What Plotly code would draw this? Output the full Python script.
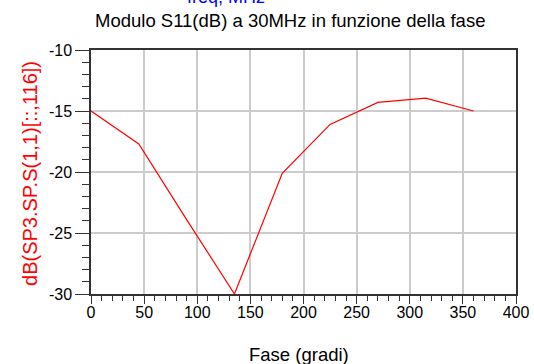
import plotly.graph_objects as go

phase_deg = [0, 45, 90, 135, 180, 225, 270, 315, 360]
s11_db = [-15.0, -17.7, -23.9, -30.0, -20.1, -16.1, -14.3, -13.95, -15.0]

x_ticks = [0, 50, 100, 150, 200, 250, 300, 350, 400]
y_ticks = [-30, -25, -20, -15, -10]

FONT = "Liberation Sans, Arial, sans-serif"

fig = go.Figure()
fig.add_trace(go.Scatter(
    x=phase_deg, y=s11_db, mode="lines",
    line=dict(color="#ff0000", width=1.2),
    showlegend=False, cliponaxis=False,
))

fig.update_layout(
    width=534, height=364,
    margin=dict(l=91, r=18, t=50, b=70, autoexpand=False),
    paper_bgcolor="white", plot_bgcolor="white",
    font=dict(family=FONT, size=16, color="black"),
    annotations=[
        dict(text="freq, MHz", xref="paper", yref="paper", x=0.318, y=1.168,
             xanchor="center", yanchor="bottom", showarrow=False,
             font=dict(family=FONT, size=18, color="#0000ff")),
        dict(text="Modulo S11(dB) a 30MHz in funzione della fase", xref="paper", yref="paper",
             x=0.468, y=1.119, xanchor="center", yanchor="middle", showarrow=False,
             font=dict(family=FONT, size=18.5, color="black")),
        dict(text="dB(SP3.SP.S(1,1)[::,116])", xref="paper", yref="paper",
             x=-0.1435, y=0.492, xanchor="center", yanchor="middle", showarrow=False,
             textangle=-90, font=dict(family=FONT, size=20, color="#ff0000")),
        dict(text="Fase (gradi)", xref="paper", yref="paper",
             x=0.489, y=-0.246, xanchor="center", yanchor="middle", showarrow=False,
             font=dict(family=FONT, size=18.5, color="black")),
    ],
)

fig.update_xaxes(
    range=[0, 400], tickvals=x_ticks, ticktext=[str(v) for v in x_ticks],
    showgrid=True, gridcolor="#cccccc", gridwidth=1.5, automargin=False,
    zeroline=False, showline=True, linecolor="#333333", linewidth=1.5,
    mirror=True, ticks="outside", ticklen=8, tickcolor="#333333", tickwidth=1.3,
    minor=dict(dtick=10, ticks="outside", ticklen=5, tickcolor="#333333", tickwidth=1.2, showgrid=False),
    tickfont=dict(family=FONT, size=16), ticklabelstandoff=-5,
)
fig.update_yaxes(
    range=[-30, -10], tickvals=y_ticks, ticktext=[str(v) for v in y_ticks],
    showgrid=True, gridcolor="#cccccc", gridwidth=1.5, automargin=False,
    zeroline=False, showline=True, linecolor="#333333", linewidth=1.5,
    mirror=True, ticks="outside", ticklen=14, tickcolor="#333333", tickwidth=1.3,
    minor=dict(dtick=1, ticks="outside", ticklen=7, tickcolor="#333333", tickwidth=1.2, showgrid=False),
    tickfont=dict(family=FONT, size=16), ticklabelstandoff=0,
)

fig.write_html("out.html")
